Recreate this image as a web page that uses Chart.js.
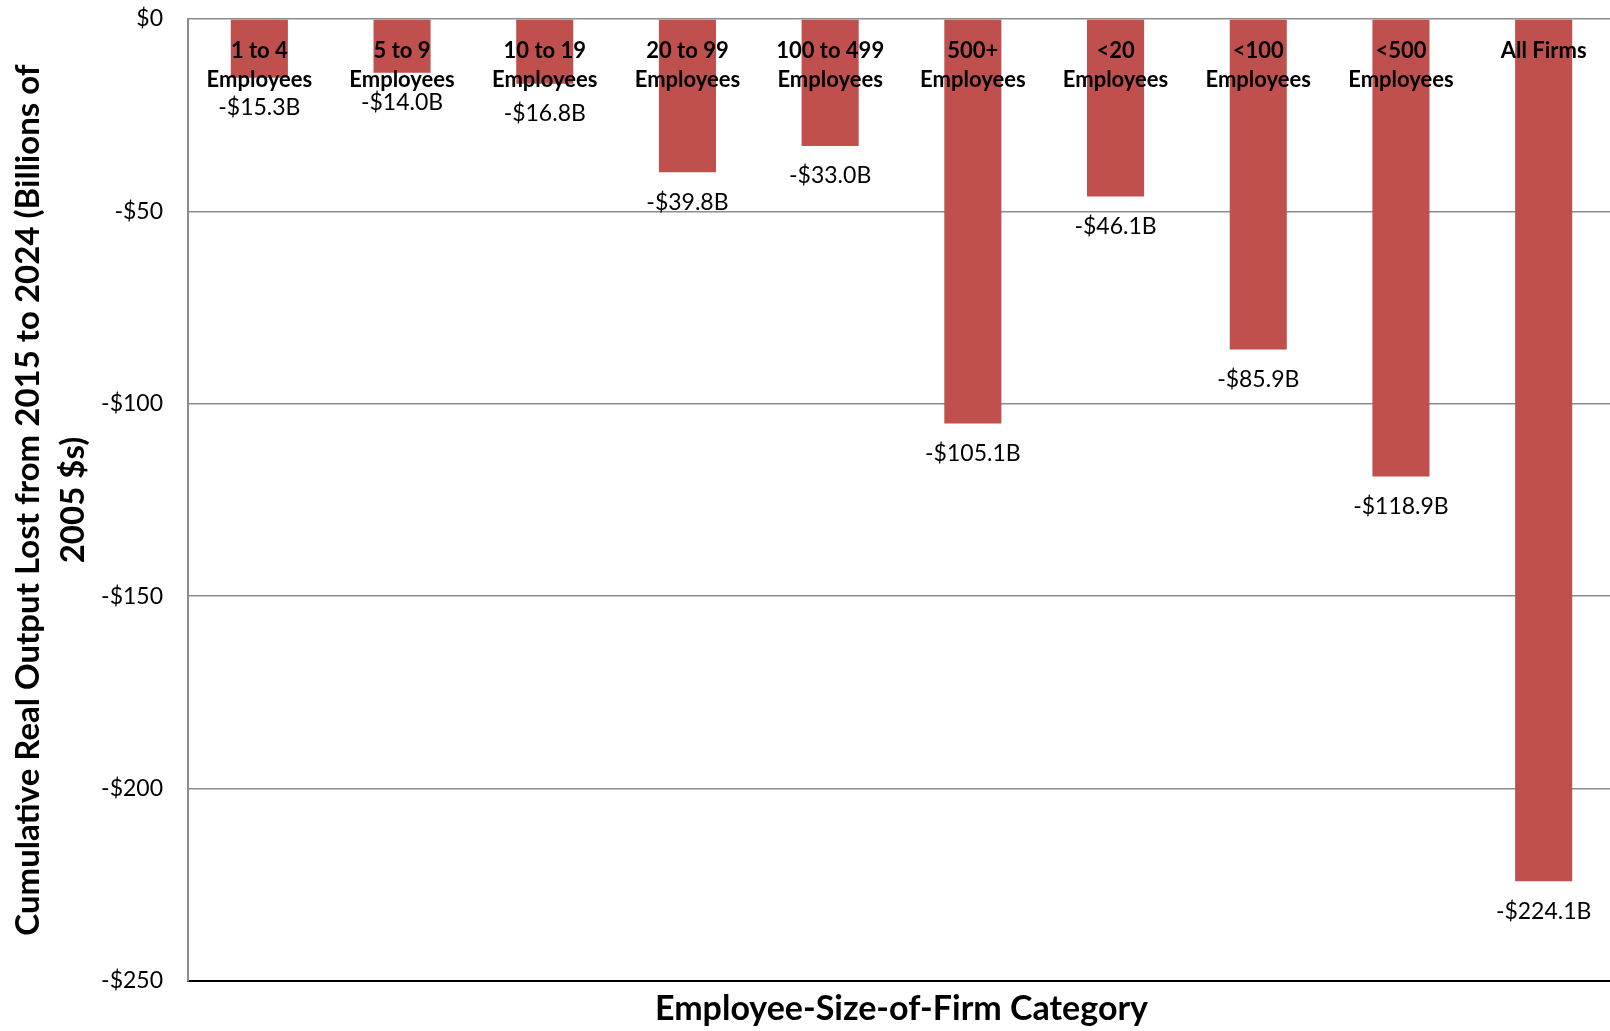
<!DOCTYPE html>
<html>
<head>
<meta charset="utf-8">
<script src="https://cdn.jsdelivr.net/npm/chart.js@4.4.1/dist/chart.umd.min.js"></script>
<style>
  html, body { margin: 0; padding: 0; background: #fff; overflow: hidden; }
  /* a few px wider than the window: the last category runs off the right edge in the original */
  #wrap { width: 1615px; height: 1031px; }
</style>
</head>
<body>
<div id="wrap"><canvas id="lossChart"></canvas></div>
<script>
// ─── data ──────────────────────────────────────────────────────
const categories = [
    ['1 to 4', 'Employees'],
    ['5 to 9', 'Employees'],
    ['10 to 19', 'Employees'],
    ['20 to 99', 'Employees'],
    ['100 to 499', 'Employees'],
    ['500+', 'Employees'],
    ['<20', 'Employees'],
    ['<100', 'Employees'],
    ['<500', 'Employees'],
    ['All Firms']
];
const outputLost = [-15.3, -14.0, -16.8, -39.8, -33.0, -105.1, -46.1, -85.9, -118.9, -224.1];
const yTicks = [0, -50, -100, -150, -200, -250];

const FONT = 'Lato, "Open Sans", sans-serif';
const BAR_RED = '#C0504D';

// ─── labels drawn on top of the bars (category names + values) ───
const barLabels = {
    id: 'barLabels',
    afterDatasetsDraw(chart) {
        const { ctx, scales: { y } } = chart;
        const top = y.getPixelForValue(0);
        const meta = chart.getDatasetMeta(0);
        ctx.save();
        ctx.textAlign = 'center';
        ctx.textBaseline = 'middle';
        ctx.fillStyle = '#000';
        meta.data.forEach((bar, i) => {
            // category name, bold, near the zero line
            ctx.font = 'bold 22px ' + FONT;
            categories[i].forEach((line, k) => {
                ctx.fillText(line, bar.x, top + 32 + k * 29);
            });
            // value just under the end of the bar
            ctx.font = '23px ' + FONT;
            const v = outputLost[i];
            ctx.fillText('-$' + Math.abs(v).toFixed(1) + 'B', bar.x, bar.y + 30);
        });
        ctx.restore();
    }
};

const ctx = document.getElementById('lossChart').getContext('2d');
const chart = new Chart(ctx, {
    type: 'bar',
    data: {
        labels: categories.map(c => c.join(' ')),
        datasets: [{
            data: outputLost,
            backgroundColor: BAR_RED,
            borderWidth: 0,
            categoryPercentage: 1,
            barPercentage: 0.4
        }]
    },
    options: {
        responsive: true,
        maintainAspectRatio: false,
        animation: false,
        layout: { padding: 0 },
        plugins: {
            legend: { display: false },
            tooltip: { enabled: false }
        },
        scales: {
            x: {
                grid: { display: false },
                border: { color: '#000', width: 2 },
                ticks: { display: false },
                title: {
                    display: true,
                    text: 'Employee-Size-of-Firm Category',
                    color: '#000',
                    font: { family: FONT, size: 34, weight: 'bold', lineHeight: 1.2 },
                    padding: { top: 0, bottom: 2 }
                },
                afterFit(scale) {
                    scale.height = 50;
                    scale.paddingLeft = 0;
                    scale.paddingRight = 0;
                }
            },
            y: {
                min: -250,
                max: 0,
                afterBuildTicks(scale) {
                    scale.ticks = yTicks.map(v => ({ value: v }));
                },
                grid: {
                    color: c => (c.tick && c.tick.value === -250) ? 'rgba(0,0,0,0)' : '#8c8c8c',
                    lineWidth: 1.5,
                    drawTicks: false
                },
                border: { color: '#8c8c8c', width: 2 },
                ticks: {
                    color: '#000',
                    padding: 25,
                    font: { family: FONT, size: 23 },
                    callback: v => v === 0 ? '$0' : '-$' + Math.abs(v)
                },
                title: {
                    display: true,
                    text: ['Cumulative Real Output Lost from 2015 to 2024 (Billions of', '2005 $s)'],
                    color: '#000',
                    font: { family: FONT, size: 33, weight: 'bold', lineHeight: 1.36 },
                    padding: { top: 6, bottom: 0 }
                },
                afterFit(scale) {
                    scale.width = 188;
                    // tick padding would otherwise push the plot down
                    scale.paddingTop = 19;
                    scale.paddingBottom = 0;
                }
            }
        }
    },
    plugins: [barLabels]
});
</script>
</body>
</html>
